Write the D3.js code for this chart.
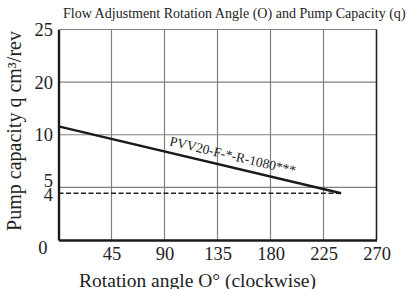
<!DOCTYPE html>
<html>
<head>
<meta charset="utf-8">
<script src="https://cdn.jsdelivr.net/npm/d3@7/dist/d3.min.js"></script>
<style>
  body { margin: 0; background: #fff; }
  svg, svg text { font-family: "Liberation Serif", "Times New Roman", serif; }
  svg { display: block; }
</style>
</head>
<body>
<div id="chart"></div>
<script>
// data
const angleTicks = [45, 90, 135, 180, 225, 270];
const capacityTicks = [0, 4, 5, 10, 20, 25];
const capacityGrid = [5, 10, 20, 25];
const curveAngle = [0, 240];
const curveCapacity = [11.6, 4];
const limitAngle = [0, 240];
const limitCapacity = [4, 4];
const curveLabel = "PVV20-F-*-R-1080***";

const width = 407, height = 289;
const margin = { left: 58.5, right: 30.5, top: 29.5, bottom: 49 };
const plotW = width - margin.left - margin.right;
const plotH = height - margin.top - margin.bottom;
const bottom = margin.top + plotH;

const svg = d3.select("#chart").append("svg")
  .attr("width", width)
  .attr("height", height);

const x = d3.scaleLinear()
  .domain([0, 270])
  .range([margin.left, margin.left + plotW]);

// the original y axis is not linear: gridlines are evenly spaced at 5,10,20,25
const y = d3.scaleLinear()
  .domain([0, 4, 5, 10, 20, 25])
  .range([bottom, bottom - 0.222 * plotH, bottom - 0.25 * plotH, bottom - 0.5 * plotH, bottom - 0.75 * plotH, margin.top]);

// grid
svg.append("g")
  .selectAll("line")
  .data(capacityGrid)
  .join("line")
  .attr("x1", margin.left).attr("x2", margin.left + plotW)
  .attr("y1", d => y(d)).attr("y2", d => y(d))
  .attr("stroke", "#808080").attr("stroke-width", 1.2);

svg.append("g")
  .selectAll("line")
  .data(angleTicks.filter(d => d < 270))
  .join("line")
  .attr("x1", d => x(d)).attr("x2", d => x(d))
  .attr("y1", margin.top).attr("y2", bottom)
  .attr("stroke", "#808080").attr("stroke-width", 1.2);

// right border
svg.append("line")
  .attr("x1", x(270)).attr("x2", x(270))
  .attr("y1", margin.top).attr("y2", bottom)
  .attr("stroke", "#222").attr("stroke-width", 1.6);

// dashed limit line
svg.append("path")
  .datum(limitAngle.map((a, i) => [a, limitCapacity[i]]))
  .attr("d", d3.line().x(d => x(d[0])).y(d => y(d[1])))
  .attr("fill", "none")
  .attr("stroke", "#222")
  .attr("stroke-width", 1.5)
  .attr("stroke-dasharray", "5,2.5");

// capacity curve
const pts = curveAngle.map((a, i) => [a, curveCapacity[i]]);
svg.append("path")
  .datum(pts)
  .attr("d", d3.line().x(d => x(d[0])).y(d => y(d[1])))
  .attr("fill", "none")
  .attr("stroke", "#1a1a1a")
  .attr("stroke-width", 2.4);

// label along the curve
const p0 = [x(pts[0][0]), y(pts[0][1])];
const p1 = [x(pts[1][0]), y(pts[1][1])];
const ang = Math.atan2(p1[1] - p0[1], p1[0] - p0[0]) * 180 / Math.PI;
const t = 0.385;
svg.append("text")
  .attr("transform", `translate(${p0[0] + t * (p1[0] - p0[0])},${p0[1] + t * (p1[1] - p0[1])}) rotate(${ang})`)
  .attr("y", -7)
  .attr("font-size", 13.5)
  .attr("fill", "#222")
  .text(curveLabel);

// axes
const yAxis = svg.append("g")
  .attr("transform", `translate(${margin.left},0)`)
  .call(d3.axisLeft(y).tickValues(capacityTicks).tickSize(0).tickPadding(6))
  .attr("font-family", null)
  .attr("font-size", 18.5);
yAxis.select(".domain").attr("stroke", "#1a1a1a").attr("stroke-width", 2.4);
yAxis.selectAll("text")
  .attr("fill", "#222")
  .attr("dy", d => d === 5 ? "-0.05em" : d === 4 ? "0.38em" : d === 0 ? "0.75em" : "0.32em")
  .attr("x", d => d === 0 ? -11 : -5.5);

const xAxis = svg.append("g")
  .attr("transform", `translate(0,${bottom})`)
  .call(d3.axisBottom(x).tickValues(angleTicks).tickSize(0).tickPadding(7))
  .attr("font-family", null)
  .attr("font-size", 18.5);
xAxis.select(".domain").attr("stroke", "#1a1a1a").attr("stroke-width", 2.4);
xAxis.selectAll("text").attr("fill", "#222");

// titles
const title = svg.append("text")
  .attr("x", 63).attr("y", 18)
  .attr("font-size", 14)
  .attr("fill", "#222")
  .text("Flow Adjustment Rotation Angle (O) and Pump Capacity (q)");
// fit the title to the width it has in the original (x 63 to 406)
const tw = title.node().getComputedTextLength();
if (tw > 0) title.attr("font-size", Math.min(15, 14 * 343 / tw));

svg.append("text")
  .attr("transform", `translate(21,${131}) rotate(-90)`)
  .attr("text-anchor", "middle")
  .attr("font-size", 20)
  .attr("fill", "#222")
  .text("Pump capacity q cm³/rev");

svg.append("text")
  .attr("x", 197.5).attr("y", 286.5)
  .attr("text-anchor", "middle")
  .attr("font-size", 19.5)
  .attr("fill", "#222")
  .text("Rotation angle O° (clockwise)");
</script>
</body>
</html>
